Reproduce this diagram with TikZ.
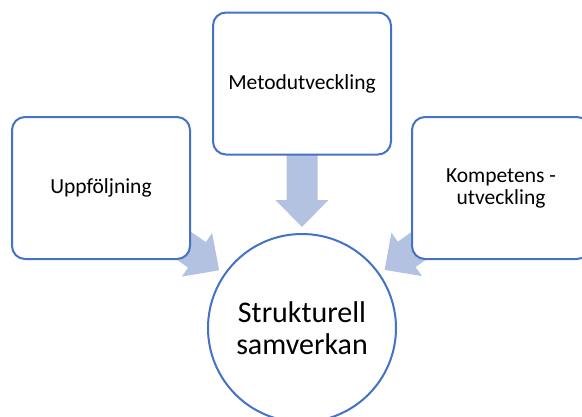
\documentclass[tikz,border=0pt]{standalone}
\usepackage{fontspec}
\setmainfont{Carlito}
\usetikzlibrary{calc}
\definecolor{boxblue}{RGB}{68,114,196}
\definecolor{arrowfill}{RGB}{180,194,225}
\pgfdeclarelayer{bg}
\pgfsetlayers{bg,main}
\newcommand{\blockarr}[2]{%
  \coordinate (#1tip) at ($(#2.center)!101pt!(#1.center)$);
  \coordinate (#1base) at ($(#1tip)!27pt!(#1.center)$);
  \coordinate (#1end) at ($(#1tip)!90pt!(#1.center)$);
  \fill[blockarrow] ($(#1base)!15.5pt!90:(#1tip)$) -- ($(#1base)!26.5pt!90:(#1tip)$) -- (#1tip)
    -- ($(#1base)!26.5pt!-90:(#1tip)$) -- ($(#1base)!15.5pt!-90:(#1tip)$)
    -- ($(#1end)!15.5pt!-90:(#1tip)$) -- ($(#1end)!15.5pt!90:(#1tip)$) -- cycle;}
\begin{document}
\begin{tikzpicture}[x=1pt,y=-1pt,
  box/.style={draw=boxblue, line width=2pt, fill=white, rounded corners=13pt,
    minimum width=178pt, minimum height=142pt, inner sep=0pt, align=center,
    font=\fontsize{21.5}{22}\selectfont},
  hub/.style={circle, draw=boxblue, line width=2pt, fill=white, minimum size=188pt,
    inner sep=0pt, align=center, font=\fontsize{30}{31.5}\selectfont},
  blockarrow/.style={fill=arrowfill}]
\clip (0,0) rectangle (582,416);
\useasboundingbox (0,0) rectangle (582,416);
\node[box] (L) at (101,188) {Uppföljning};
\node[box] (T) at (302,83.5) {Metodutveckling};
\node[box] (R) at (501,188) {Kompetens -\\utveckling};
\node[hub] (C) at (302,328) {Strukturell\\samverkan};
\begin{pgfonlayer}{bg}
  \blockarr{L}{C}
  \blockarr{T}{C}
  \blockarr{R}{C}
\end{pgfonlayer}
\end{tikzpicture}
\end{document}
